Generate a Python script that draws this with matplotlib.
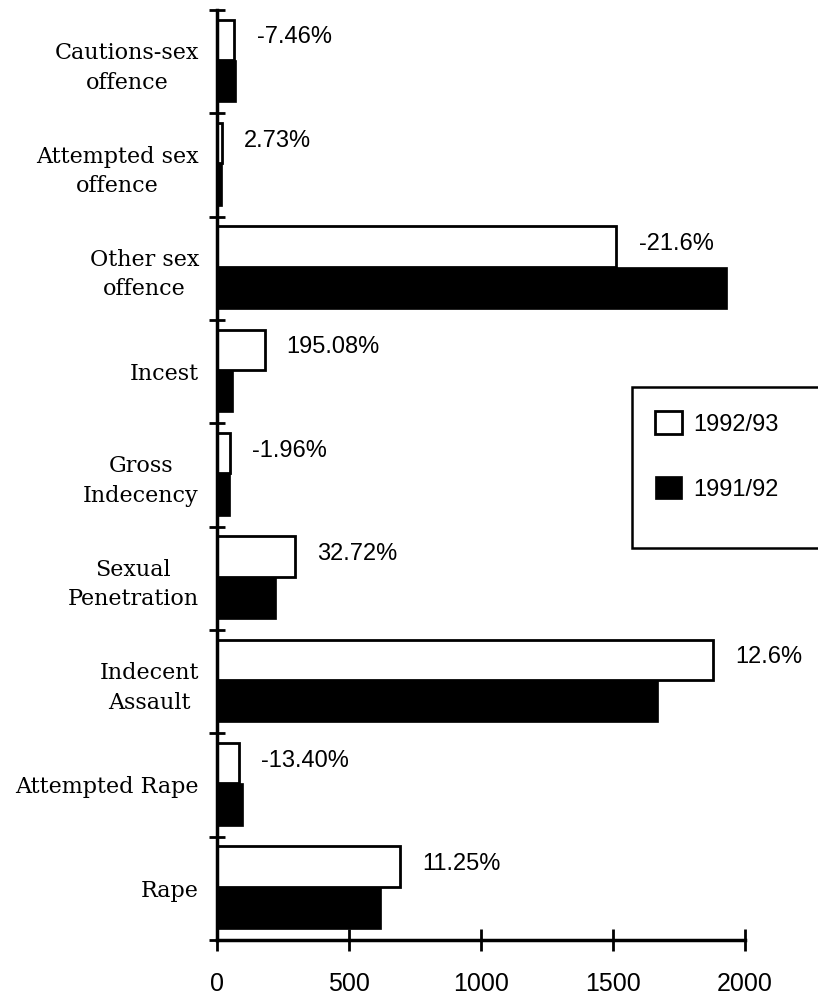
import matplotlib.pyplot as plt
from matplotlib.patches import Rectangle
import numpy as np

# offence categories, listed top to bottom
categories = ['Cautions-sex\noffence', 'Attempted sex\noffence', 'Other sex\noffence',
              'Incest', 'Gross\nIndecency', 'Sexual\nPenetration', 'Indecent\nAssault',
              'Attempted Rape', 'Rape']
counts_9293 = [66, 18.5, 1513, 180, 50, 295, 1880, 84, 693]
counts_9192 = [71, 18, 1930, 61, 51, 222, 1670, 97, 623]
pct_change = ['-7.46%', '2.73%', '-21.6%', '195.08%', '-1.96%', '32.72%', '12.6%', '-13.40%', '11.25%']
xticks = [0, 500, 1000, 1500, 2000]

W, H = 818, 1008
fig = plt.figure(figsize=(W / 100, H / 100), dpi=100)
ax = fig.add_axes([217 / W, 1 - 940 / H, (745 - 217) / W, (940 - 10) / H])

y = np.arange(len(categories))
ax.barh(y - 0.21, counts_9293, height=0.39, color='white', edgecolor='black',
        linewidth=2, label='1992/93')
ax.barh(y + 0.19, counts_9192, height=0.41, color='black', edgecolor='black',
        linewidth=0.5, label='1991/92')

for i in range(len(categories)):
    ax.annotate(pct_change[i], (counts_9293[i], y[i] - 0.21), xytext=(16, 2),
                textcoords='offset points', ha='left', va='center',
                fontsize=17, family='Liberation Sans')

ax.set_xlim(0, 2000)
ax.set_ylim(len(categories) - 0.5, -0.5)

# boundary ticks between categories, names centred on minor ticks
ax.set_yticks(np.arange(len(categories) + 1) - 0.5)
ax.set_yticklabels([])
ax.set_yticks(y, minor=True)
ax.set_yticklabels(categories, minor=True, fontsize=16, family='DejaVu Serif',
                   linespacing=1.45)
for lab in ax.get_yticklabels(minor=True):
    lab.set_multialignment('center')
ax.tick_params(axis='y', which='minor', length=0, pad=13)
ax.tick_params(axis='y', which='major', direction='inout', length=12, width=2)

ax.set_xticks(xticks)
ax.set_xticklabels([str(t) for t in xticks], fontsize=18, family='Liberation Sans')
ax.tick_params(axis='x', direction='inout', length=16, width=2, pad=15)

for s in ['top', 'right']:
    ax.spines[s].set_visible(False)
for s in ['left', 'bottom']:
    ax.spines[s].set_linewidth(2.5)

# legend box runs off the right edge
fig.patches.append(Rectangle((632 / W, 1 - 548 / H), 200 / W, 161 / H,
                             transform=fig.transFigure, facecolor='white',
                             edgecolor='black', linewidth=1.8, zorder=5))
leg = fig.legend(loc='upper left', bbox_to_anchor=(655 / W, 1 - 411 / H),
                 frameon=False, borderpad=0, borderaxespad=0,
                 handlelength=1.15, handleheight=1.15, handletextpad=0.45,
                 labelspacing=1.7, prop={'family': 'Liberation Sans', 'size': 17})
leg.set_zorder(6)

fig.savefig('out.png', dpi=100)
